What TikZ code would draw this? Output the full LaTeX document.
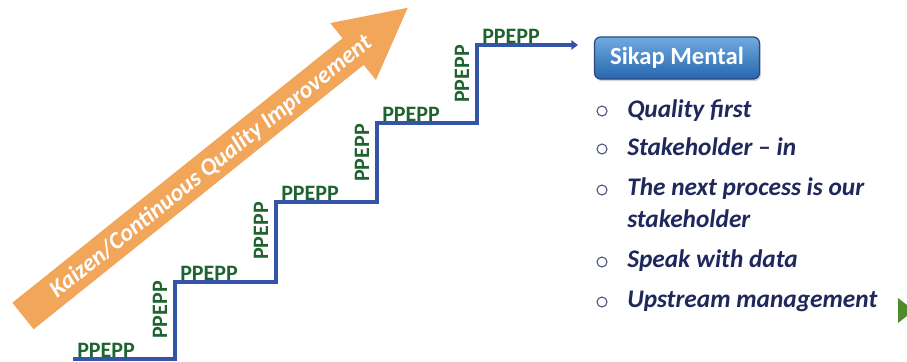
\documentclass[tikz,border=0pt]{standalone}
\usepackage{fontspec}
\setmainfont{Carlito}
\usetikzlibrary{arrows.meta,shadows}

\definecolor{stairblue}{RGB}{52,84,168}
\definecolor{stepgreen}{RGB}{31,100,48}
\definecolor{kaizenorange}{RGB}{241,166,90}
\definecolor{navytext}{RGB}{31,40,92}
\definecolor{btntop}{RGB}{112,170,224}
\definecolor{btnbottom}{RGB}{38,102,174}
\definecolor{btnedge}{RGB}{42,72,122}
\definecolor{nextgreen}{RGB}{78,138,46}

\tikzset{
  steplabel/.style={inner sep=0pt, text=stepgreen,
    font=\fontsize{16.5}{18}\selectfont\bfseries},
  riselabel/.style={steplabel, rotate=90, anchor=base west},
  runlabel/.style={steplabel, anchor=base west},
  mindtext/.style={inner sep=0pt, anchor=base west, align=left, text=navytext,
    font=\fontsize{19}{24}\selectfont\bfseries\itshape},
  bulletmark/.style={circle, draw=navytext!80, line width=0.8pt,
    inner sep=0pt, minimum size=7.5pt},
}

\begin{document}
\begin{tikzpicture}[x=0.75pt,y=-0.75pt]
\useasboundingbox (0,0) rectangle (907,361);

% big arrow
\fill[kaizenorange, shift={(23,316)}, rotate=38.7]
  (0,-17) -- (423,-17) -- (423,-36.5) -- (493,0) -- (423,36.5) -- (423,17) -- (0,17) -- cycle;
\node[rotate=38.7, text=white, font=\fontsize{18}{19}\selectfont\bfseries\itshape]
  (kaizen) at (211,167) {Kaizen/Continuous Quality Improvement};

% stairs
\coordinate (s0) at (73,359);
\coordinate (s1) at (175,359);
\coordinate (s2) at (175,282);
\coordinate (s3) at (276,282);
\coordinate (s4) at (276,202);
\coordinate (s5) at (377,202);
\coordinate (s6) at (377,123);
\coordinate (s7) at (477,123);
\coordinate (s8) at (477,45);
\coordinate (s9) at (578,45);
\draw[stairblue, line width=3pt, -{Triangle[length=5pt,width=7pt]}]
  (s0) -- (s1) -- (s2) -- (s3) -- (s4) -- (s5) -- (s6) -- (s7) -- (s8) -- (s9);

\node[runlabel] (run1) at (77,357) {PPEPP};
\node[runlabel] (run2) at (180,280) {PPEPP};
\node[runlabel] (run3) at (281,200) {PPEPP};
\node[runlabel] (run4) at (382,121) {PPEPP};
\node[runlabel] (run5) at (482,43) {PPEPP};

\node[riselabel] (rise1) at (167,339) {PPEPP};
\node[riselabel] (rise2) at (268,260) {PPEPP};
\node[riselabel] (rise3) at (369,182) {PPEPP};
\node[riselabel] (rise4) at (469,103) {PPEPP};

% sikap mental
\node[draw=btnedge, line width=0.9pt, rounded corners=4.5pt,
  top color=btntop, bottom color=btnbottom,
  drop shadow={opacity=0.35, shadow xshift=1pt, shadow yshift=-1.5pt},
  minimum width=123.75pt, minimum height=31.5pt, text=white,
  font=\fontsize{18.5}{20}\selectfont\bfseries] (sikap) at (677,58) {Sikap Mental};

\node[bulletmark] (b1) at (602,111) {};
\node[bulletmark] (b2) at (602,149) {};
\node[bulletmark] (b3) at (602,190) {};
\node[bulletmark] (b4) at (602,262) {};
\node[bulletmark] (b5) at (602,302) {};

\node[mindtext] (m1) at (627,117) {Quality first};
\node[mindtext] (m2) at (627,155) {Stakeholder -- in};
\node[mindtext] (m3) at (627,227) {The next process is our\\stakeholder};
\node[mindtext] (m4) at (627,267) {Speak with data};
\node[mindtext] (m5) at (627,307) {Upstream management};

% next marker
\fill[nextgreen] (898,298) -- (914,310.5) -- (898,323) -- cycle;
\end{tikzpicture}
\end{document}
